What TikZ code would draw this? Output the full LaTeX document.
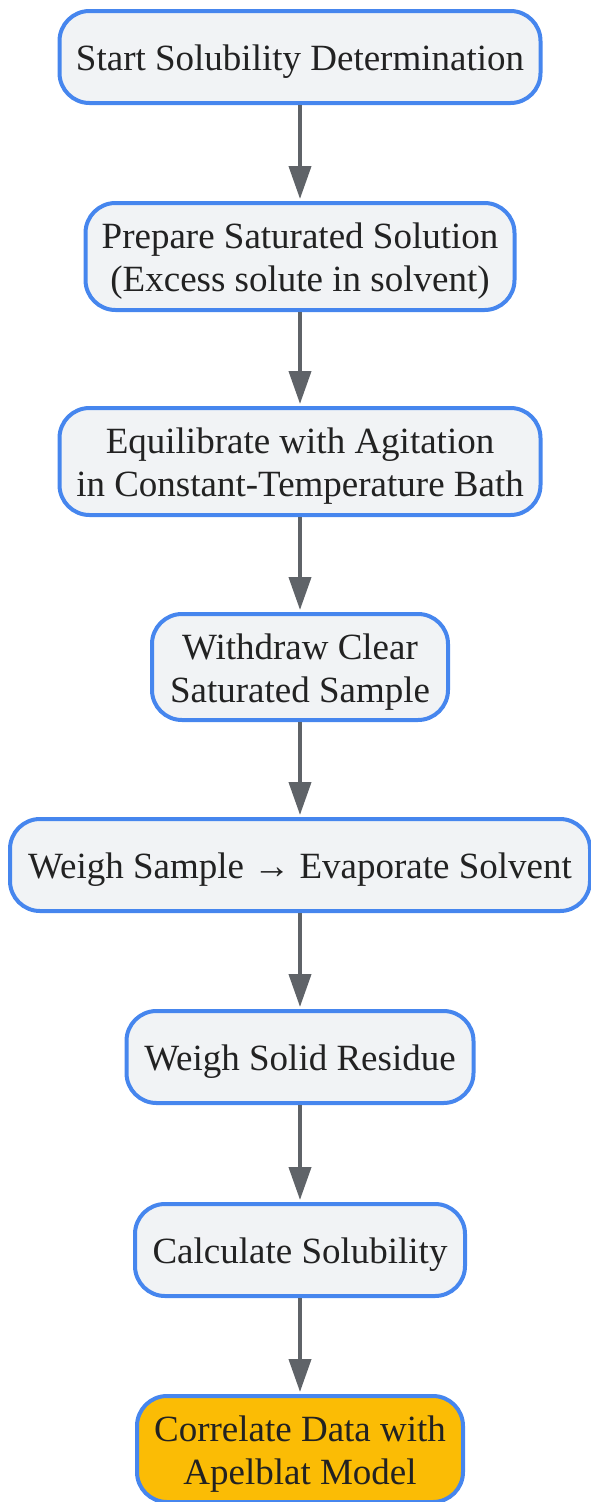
\documentclass[tikz,border=0pt]{standalone}
\usepackage{fontspec}
\setmainfont{Liberation Serif}
\usetikzlibrary{arrows.meta}
\definecolor{boxfill}{HTML}{F1F3F5}
\definecolor{boxline}{HTML}{4686EE}
\definecolor{arrowc}{HTML}{5F6368}
\definecolor{gold}{HTML}{FBBC05}
\definecolor{txt}{HTML}{222222}
\begin{document}
\begin{tikzpicture}[x=1pt,y=1pt,
  stepbox/.style={draw=boxline, line width=4pt, fill=boxfill, rounded corners=30pt, inner sep=0pt},
  goldbox/.style={stepbox, fill=gold},
  lbl/.style={align=center, text=txt, font=\fontsize{37}{43}\selectfont, inner sep=0pt, yshift=-5pt},
  conn/.style={draw=arrowc, line width=4pt, -{Triangle[length=33pt,width=22pt]}}]
\useasboundingbox (0,0) rectangle (590,-1502);
\node[stepbox, minimum width=481pt, minimum height=92pt] (n1) at (300,-57) {};
\node[lbl] (t1) at (n1) {Start Solubility Determination};
\node[stepbox, minimum width=429pt, minimum height=107pt] (n2) at (300,-256.5) {};
\node[lbl] (t2) at (n2) {Prepare Saturated Solution\\(Excess solute in solvent)};
\node[stepbox, minimum width=481pt, minimum height=107pt] (n3) at (300,-461.5) {};
\node[lbl] (t3) at (n3) {Equilibrate with Agitation\\in Constant-Temperature Bath};
\node[stepbox, minimum width=296pt, minimum height=106pt] (n4) at (300,-667) {};
\node[lbl] (t4) at (n4) {Withdraw Clear\\Saturated Sample};
\node[stepbox, minimum width=580pt, minimum height=92pt] (n5) at (300,-865) {};
\node[lbl] (t5) at (n5) {Weigh Sample → Evaporate Solvent};
\node[stepbox, minimum width=347pt, minimum height=92pt] (n6) at (300,-1057) {};
\node[lbl] (t6) at (n6) {Weigh Solid Residue};
\node[stepbox, minimum width=330pt, minimum height=92pt] (n7) at (300,-1250) {};
\node[lbl] (t7) at (n7) {Calculate Solubility};
\node[goldbox, minimum width=326pt, minimum height=106pt] (n8) at (300,-1449) {};
\node[lbl] (t8) at (n8) {Correlate Data with\\Apelblat Model};
\draw[conn] (n1.south) -- ([yshift=2pt]n2.north);
\draw[conn] (n2.south) -- ([yshift=2pt]n3.north);
\draw[conn] (n3.south) -- ([yshift=2pt]n4.north);
\draw[conn] (n4.south) -- ([yshift=2pt]n5.north);
\draw[conn] (n5.south) -- ([yshift=2pt]n6.north);
\draw[conn] (n6.south) -- ([yshift=2pt]n7.north);
\draw[conn] (n7.south) -- ([yshift=2pt]n8.north);
\end{tikzpicture}
\end{document}
